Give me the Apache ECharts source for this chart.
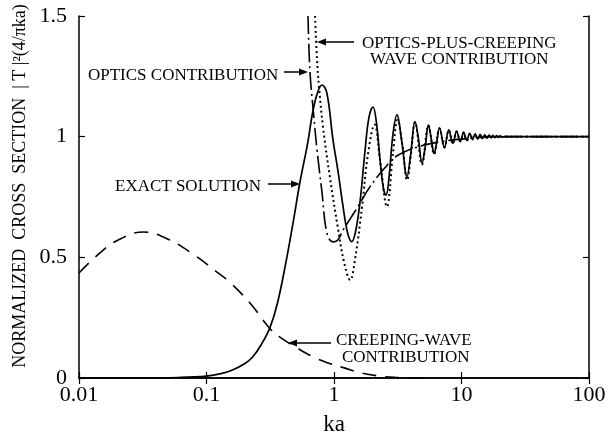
<!DOCTYPE html>
<html>
<head>
<meta charset="utf-8">
<script src="https://cdn.jsdelivr.net/npm/echarts@6/dist/echarts.min.js"></script>
<style>html,body{margin:0;padding:0;background:#fff}#c{width:608px;height:435px}</style>
</head>
<body>
<div id="c"></div>
<script>
// ---- data ----
const xTickLabels = ['0.01', '0.1', '1', '10', '100'];
const yTickLabels = ['0', '0.5', '1', '1.5'];

const exactKa  = [0.01,0.03,0.06,0.1,0.13,0.16,0.2,0.23,0.27,0.315,0.36,0.42,0.48,0.54,0.62,0.68,0.74,0.805,0.88,0.98,1.08,1.17,1.28,1.38,1.48,1.6,1.75,1.88,2.02,2.15,2.3,2.45,2.56,2.7,2.9,3.12,3.4,3.74,4.0,4.32,4.6,4.9,5.2,5.5,5.8,6.1,6.4,6.72,7.35,7.95,8.55,9.15,9.8,10.4,11.0,11.6,12.2,12.8,13.4,14.0,14.6,15.2,15.8,16.5,17.1,17.7,18.3,18.9,19.5,20.1,20.7,22,30,100];
const exactVal = [0,0,0.002,0.008,0.018,0.033,0.06,0.087,0.14,0.21,0.31,0.48,0.65,0.81,0.97,1.1,1.18,1.214,1.18,0.99,0.85,0.72,0.6,0.565,0.61,0.73,0.94,1.08,1.123,1.06,0.9,0.78,0.758,0.83,1.01,1.09,0.98,0.835,0.93,1.062,0.99,0.89,0.96,1.048,0.99,0.93,0.98,1.036,0.955,1.028,0.972,1.022,0.98,1.018,0.985,1.014,0.988,1.012,0.99,1.01,0.992,1.008,0.994,1.006,0.995,1.005,0.996,1.004,0.997,1.003,0.998,1.0,1.0,1.0];

const plusKa  = [0.71,0.736,0.762,0.82,0.93,1.07,1.2,1.34,1.46,1.66,1.85,2.08,2.3,2.6,2.9,3.15,3.45,3.74,4.0,4.32,4.9,5.5,6.1,6.72,7.35,7.95,8.55,9.15,9.8,10.4,11.0,12,100];
const plusVal = [1.5,1.32,1.21,1.04,0.83,0.626,0.48,0.406,0.49,0.71,0.93,1.05,0.9,0.71,0.93,1.07,0.96,0.82,0.92,1.06,0.885,1.046,0.928,1.035,0.955,1.027,0.972,1.021,0.98,1.017,0.985,1.0,1.0];

const opticsKa  = [0.625,0.648,0.69,0.736,0.806,0.88,0.98,1.07,1.2,1.5,1.9,2.5,3.1,4.5,7,10,20,100];
const opticsVal = [1.5,1.27,1.1,0.945,0.767,0.6,0.564,0.572,0.62,0.7,0.79,0.87,0.92,0.957,0.98,0.99,1.0,1.0];

const creepKa  = [0.01,0.014,0.02,0.032,0.05,0.08,0.12,0.15,0.22,0.32,0.4,0.5,0.7,0.9,1.2,1.6,2.2,3,5];
const creepVal = [0.435,0.51,0.57,0.605,0.575,0.51,0.44,0.4,0.31,0.2,0.16,0.128,0.085,0.062,0.042,0.022,0.009,0.003,0];

const zip = (a, b) => a.map((v, i) => [v, b[i]]);
const FONT = "'Liberation Serif', 'DejaVu Serif', serif";

const chart = echarts.init(document.getElementById('c'), null, {renderer: 'canvas'});

function xfmt(v) {
  for (const s of xTickLabels) {
    if (Math.abs(Math.log10(v) - Math.log10(parseFloat(s))) < 1e-6) return s;
  }
  return '';
}
function yfmt(v) {
  for (const s of yTickLabels) {
    if (Math.abs(v - parseFloat(s)) < 1e-6) return s;
  }
  return '';
}

const axisLine = {show: true, lineStyle: {color: '#000', width: 1.5}};
const tick = {show: true, inside: true, length: 6, lineStyle: {color: '#000', width: 1.2}};

function arrow(x1, y1, x2, y2) {
  const dx = x2 - x1, dy = y2 - y1, L = Math.hypot(dx, dy);
  const ux = dx / L, uy = dy / L, hl = 9, hw = 3.5;
  const bx = x2 - ux * hl, by = y2 - uy * hl;
  return [
    {type: 'line', shape: {x1: x1, y1: y1, x2: bx, y2: by}, style: {stroke: '#000', lineWidth: 1.5}, z: 100},
    {type: 'polygon', shape: {points: [[x2, y2], [bx - uy * hw, by + ux * hw], [bx + uy * hw, by - ux * hw]]}, style: {fill: '#000'}, z: 100}
  ];
}
function label(text, x, y) {
  return {type: 'text', x: x, y: y, z: 100,
    style: {text: text, font: '17px ' + FONT, fill: '#000', textAlign: 'left', textVerticalAlign: 'middle'}};
}

chart.setOption({
  animation: false,
  backgroundColor: '#fff',
  grid: {left: 79, right: 19, top: 16, bottom: 57, containLabel: false, outerBoundsMode: 'none'},
  xAxis: [
    {type: 'log', logBase: 10, min: 0.01, max: 100, position: 'bottom',
     axisLine: axisLine, axisTick: tick, splitLine: {show: false}, minorTick: {show: false},
     axisLabel: {formatter: xfmt, fontFamily: FONT, fontSize: 22, color: '#000', margin: 6},
     name: 'ka', nameLocation: 'middle', nameGap: 35,
     nameTextStyle: {fontFamily: FONT, fontSize: 23, color: '#000'}},
    {type: 'log', logBase: 10, min: 0.01, max: 100, position: 'top',
     axisLine: axisLine, axisTick: tick, splitLine: {show: false}, axisLabel: {show: false}}
  ],
  yAxis: [
    {type: 'value', min: 0, max: 1.5, interval: 0.5, position: 'left',
     axisLine: axisLine, axisTick: tick, splitLine: {show: false},
     axisLabel: {formatter: yfmt, fontFamily: FONT, fontSize: 22, color: '#000', margin: 12}},
    {type: 'value', min: 0, max: 1.5, interval: 0.5, position: 'right',
     axisLine: axisLine, axisTick: tick, splitLine: {show: false}, axisLabel: {show: false}}
  ],
  series: [
    {name: 'Creeping-wave contribution', type: 'line', data: zip(creepKa, creepVal), smooth: 0.4, symbol: 'none',
     lineStyle: {color: '#000', width: 1.6, type: [14, 9]}, clip: true},
    {name: 'Optics contribution', type: 'line', data: zip(opticsKa, opticsVal), smooth: 0.4, symbol: 'none',
     lineStyle: {color: '#000', width: 1.6, type: [18, 4, 2, 4]}, clip: true},
    {name: 'Optics-plus-creeping wave contribution', type: 'line', data: zip(plusKa, plusVal), smooth: 0.4, symbol: 'none',
     lineStyle: {color: '#000', width: 2, type: [2, 3]}, clip: true},
    {name: 'Exact solution', type: 'line', data: zip(exactKa, exactVal), smooth: 0.4, symbol: 'none',
     lineStyle: {color: '#000', width: 1.7, type: 'solid'}, clip: true}
  ],
  graphic: [
    {type: 'text', x: 20, y: 186, rotation: Math.PI / 2, z: 100,
     style: {text: 'NORMALIZED  CROSS  SECTION  | T |²(4/πka)', font: '18px ' + FONT, fill: '#000',
             textAlign: 'center', textVerticalAlign: 'middle'}},
    label('OPTICS CONTRIBUTION', 88, 76),
    ...arrow(284, 72, 308, 72),
    label('EXACT SOLUTION', 115, 187),
    ...arrow(268, 184, 300, 184),
    label('OPTICS-PLUS-CREEPING', 362, 44),
    label('WAVE CONTRIBUTION', 370, 60),
    ...arrow(354, 42, 317, 42),
    label('CREEPING-WAVE', 336, 341),
    label('CONTRIBUTION', 342, 358),
    ...arrow(331, 343, 288, 343)
  ]
});
</script>
</body>
</html>
